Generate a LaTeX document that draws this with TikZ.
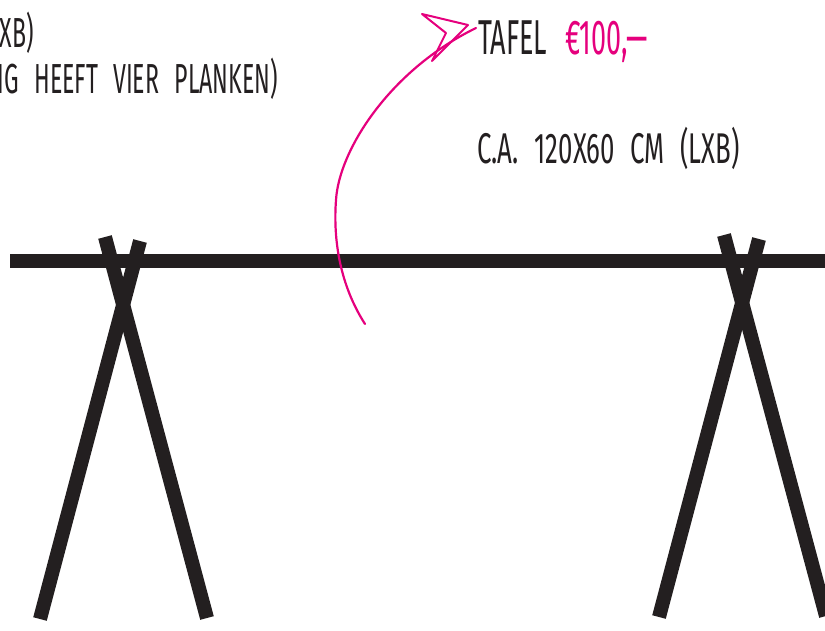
\documentclass[tikz,border=0pt]{standalone}
\usepackage{fontspec}
\usepackage{xcolor}
\usepackage{tikz}
\usetikzlibrary{positioning, calc}

\newfontfamily\handfont[FakeStretch=0.55, WordSpace=2.5]{Fira Sans}
\newfontfamily\handbreed[FakeStretch=0.6, WordSpace=2.3]{Fira Sans}
\definecolor{tafelzwart}{RGB}{35,31,32}
\definecolor{tafelroze}{HTML}{E5007D}

\begin{document}
\begin{tikzpicture}[
		x=1pt, y=-1pt,
		plank/.style={
				draw=tafelzwart,
				line width=14pt
			},
		poot/.style={
				draw=tafelzwart,
				line width=14pt
			},
		tekst/.style={
				inner sep=0pt,
				text=tafelzwart,
				font=\handfont\fontsize{42}{42}\selectfont
			},
		pijl/.style={
				draw=tafelroze,
				line width=2.2pt,
				line cap=round,
				line join=round
			},
		]

		\useasboundingbox (0,0) rectangle (825,630);

		% tafelblad
		\draw[plank] (10,261) -- (850,261);

		% schragen
		\foreach \dx/\dy in {0/0, 619/-2} {
			\draw[poot] (105+\dx,237+\dy) -- (207+\dx,618+\dy);
			\draw[poot] (140+\dx,241+\dy) -- (40+\dx,619+\dy);
		}

		\node[tekst, anchor=base east] (bankmaat) at (34,47) {XB)};

		\node[tekst, anchor=base east] (planken) at (278,93) {NG HEEFT VIER PLANKEN)};

		\node[tekst, anchor=base west, font=\handfont\fontsize{49}{49}\selectfont] (tafel) at (478,54) {TAFEL \textcolor{tafelroze}{€100,—}};

		\node[tekst, anchor=base west, font=\handbreed\fontsize{43}{43}\selectfont] (tafelmaat) at (477,163) {C.A. 120X60 CM (LXB)};

		% pijl naar de tafel
		\coordinate (pijlstart) at (365,324);
		\coordinate (pijlpunt) at ($(tafel.base west)+(-2,-26)$);

		\draw[pijl] (pijlstart) .. controls (340,285) and (333,240) .. (336,200)
			.. controls (339,150) and (390,70) .. (pijlpunt);

		\draw[pijl, line width=2pt] (422,14) -- (468,25) -- (432,61) -- (446,33) -- cycle;

	\end{tikzpicture}
\end{document}
